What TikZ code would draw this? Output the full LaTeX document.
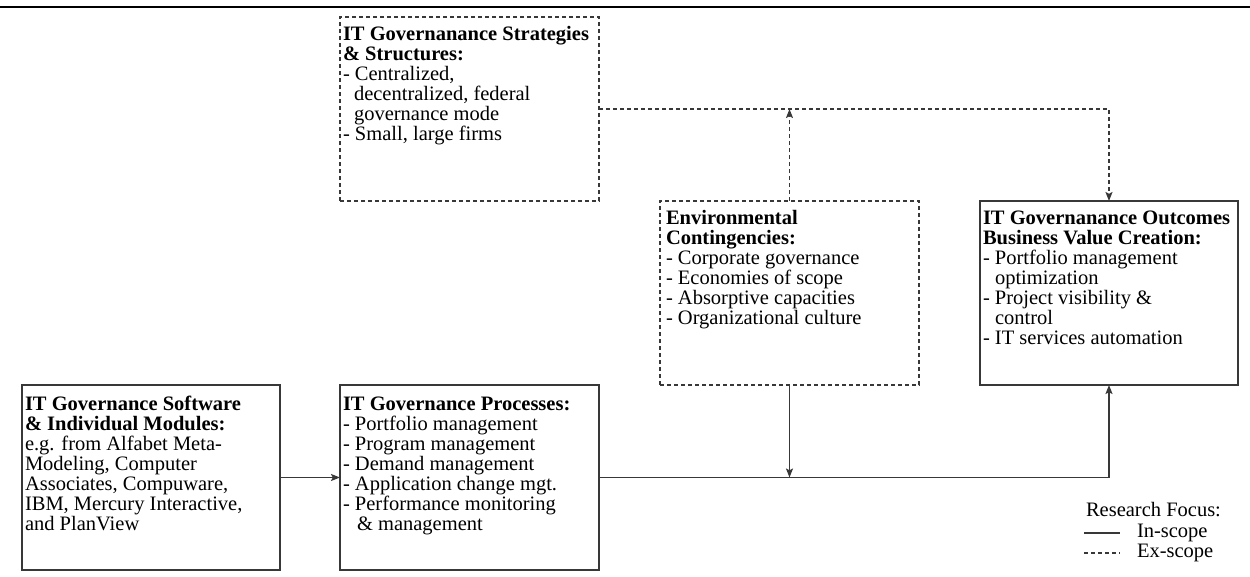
\documentclass[tikz,border=0pt]{standalone}
\usepackage{fontspec}
\setmainfont{Liberation Serif}
\usetikzlibrary{arrows.meta}

\begin{document}
\begin{tikzpicture}[x=1pt, y=-1pt,
  every node/.style={inner sep=0pt, outer sep=0pt},
  boxbase/.style={draw=black!78, line width=1.5pt, anchor=north west},
  solidbox/.style={boxbase},
  dashbox/.style={boxbase, dash pattern=on 4pt off 3pt},
  txt/.style={anchor=north west, align=left, font=\fontsize{20.5pt}{20pt}\selectfont},
  lbl/.style={anchor=base west, font=\fontsize{20.5pt}{20pt}\selectfont},
  conn/.style={draw=black!78, line width=1.5pt, -{Stealth[length=9pt,width=7pt,inset=1.8pt]}},
  exscope/.style={dash pattern=on 4pt off 3pt}
]
\useasboundingbox (0,0) rectangle (1250,576);

% rule across the top
\coordinate (rl) at (0,7);
\coordinate (rr) at (1250,7);
\draw[line width=2.6pt] (rl) -- (rr);

% boxes
\node[dashbox,  minimum width=259pt, minimum height=184pt] (strat) at (340,17) {};
\node[dashbox,  minimum width=259pt, minimum height=184pt] (env)   at (660,201) {};
\node[solidbox, minimum width=258pt, minimum height=184pt] (out)   at (980,201) {};
\node[solidbox, minimum width=258pt, minimum height=185pt] (sw)    at (22,385) {};
\node[solidbox, minimum width=259pt, minimum height=185pt] (proc)  at (340,385) {};

% box contents
\node[txt] (strat-t) at (343,24) {\rule{0pt}{16pt}\textbf{IT Governanance Strategies}\\
  \textbf{\& Structures:}\\
  - Centralized,\\
  \hspace*{11pt}decentralized, federal\\
  \hspace*{11pt}governance mode\\
  - Small, large firms};

\node[txt] (env-t) at (666,208) {\rule{0pt}{16pt}\textbf{Environmental}\\
  \textbf{Contingencies:}\\
  - Corporate governance\\
  - Economies of scope\\
  - Absorptive capacities\\
  - Organizational culture};

\node[txt] (out-t) at (983,208) {\rule{0pt}{16pt}\textbf{IT Governanance Outcomes}\\
  \textbf{Business Value Creation:}\\
  - Portfolio management\\
  \hspace*{12pt}optimization\\
  - Project visibility \&\\
  \hspace*{12pt}control\\
  - IT services automation};

\node[txt] (sw-t) at (25,394) {\rule{0pt}{16pt}\textbf{IT Governance Software}\\
  \textbf{\& Individual Modules:}\\
  e.g. from Alfabet Meta-\\
  Modeling, Computer\\
  Associates, Compuware,\\
  IBM, Mercury Interactive,\\
  and PlanView};

\node[txt] (proc-t) at (343,394) {\rule{0pt}{16pt}\textbf{IT Governance Processes:}\\
  - Portfolio management\\
  - Program management\\
  - Demand management\\
  - Application change mgt.\\
  - Performance monitoring\\
  \hspace*{14pt}\& management};

% connectors
\coordinate (j) at (env.south |- proc.east);
\draw[conn] (sw.east) -- (proc.west);
\draw[conn] (proc.east) -| (out.south);
\draw[conn] (env.south) -- (j);
\draw[conn, exscope] (env.north) -- (env.north |- strat.east);
\draw[conn, exscope] (strat.east) -| (out.north);

% legend
\node[lbl] (leg) at (1086,516) {Research Focus:};
\coordinate (ins-a) at (1084,533);
\coordinate (ins-b) at (1120,533);
\coordinate (exs-a) at (1084,553);
\coordinate (exs-b) at (1120,553);
\draw[draw=black!78, line width=1.5pt] (ins-a) -- (ins-b);
\draw[draw=black!78, line width=1.5pt, exscope] (exs-a) -- (exs-b);
\node[lbl] (leg-in) at (1137,537) {In-scope};
\node[lbl] (leg-ex) at (1137,557) {Ex-scope};
\end{tikzpicture}
\end{document}
